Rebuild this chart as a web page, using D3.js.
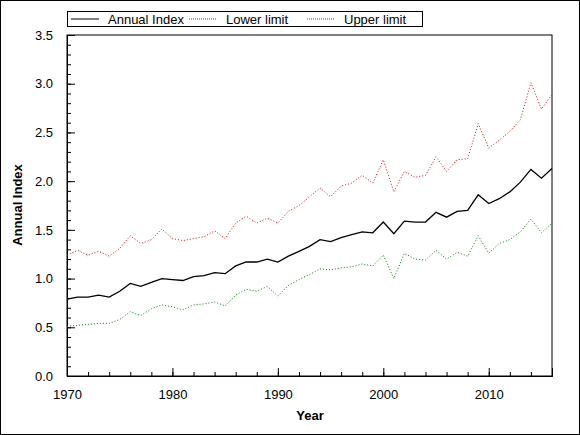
<!DOCTYPE html><html><head><meta charset="utf-8"><script src="https://cdn.jsdelivr.net/npm/d3@7"></script>
<style>body{margin:0;background:#fff}svg{font-family:"Liberation Sans",Arial,sans-serif}</style></head><body>
<svg id="c" width="580" height="435"></svg>
<script>
const years=d3.range(1970,2017);
const annual=[0.79,0.81,0.81,0.83,0.81,0.87,0.95,0.92,0.96,1.00,0.99,0.98,1.02,1.03,1.06,1.05,1.13,1.17,1.17,1.20,1.17,1.23,1.28,1.33,1.40,1.38,1.42,1.45,1.48,1.47,1.58,1.46,1.59,1.58,1.58,1.68,1.63,1.69,1.70,1.86,1.77,1.82,1.89,1.99,2.12,2.03,2.13];
const lower=[0.51,0.52,0.53,0.54,0.54,0.58,0.66,0.62,0.69,0.73,0.71,0.68,0.73,0.74,0.76,0.72,0.83,0.89,0.87,0.92,0.82,0.93,0.99,1.04,1.10,1.09,1.11,1.12,1.15,1.13,1.24,1.00,1.26,1.20,1.19,1.29,1.20,1.27,1.23,1.44,1.26,1.36,1.40,1.48,1.61,1.47,1.57];
const upper=[1.24,1.29,1.24,1.28,1.23,1.31,1.44,1.36,1.40,1.51,1.41,1.39,1.41,1.43,1.49,1.41,1.57,1.64,1.57,1.62,1.57,1.69,1.75,1.84,1.93,1.84,1.95,1.98,2.06,1.98,2.22,1.89,2.10,2.04,2.06,2.25,2.10,2.22,2.23,2.59,2.34,2.42,2.51,2.63,3.01,2.74,2.89];
const seriesNames=["Annual Index","Lower limit","Upper limit"];
const xTicks=[1970,1980,1990,2000,2010];
const yTicks=[0,0.5,1,1.5,2,2.5,3,3.5];
const svg=d3.select("#c");
svg.append("rect").attr("x",0.5).attr("y",0.5).attr("width",579).attr("height",434).attr("fill","#fff").attr("stroke","#000");
const x=d3.scaleLinear().domain([1970,2016]).range([67,552]);
const y=d3.scaleLinear().domain([0,3.5]).range([376,35]);
svg.append("rect").attr("x",67).attr("y",35).attr("width",485).attr("height",341).attr("fill","none").attr("stroke","#000");
const xa=svg.append("g").attr("transform","translate(0,376)");
xa.call(d3.axisBottom(x).tickValues(d3.range(1970,2017,2)).tickSize(-4).tickFormat(""));
xa.call(g=>g.append("g").call(d3.axisBottom(x).tickValues(xTicks).tickSize(-8).tickFormat(d3.format("d")).tickPadding(14)));
const ya=svg.append("g").attr("transform","translate(67,0)");
ya.call(d3.axisLeft(y).tickValues(d3.range(0,3.51,0.1)).tickSize(-4).tickFormat(""));
ya.call(g=>g.append("g").call(d3.axisLeft(y).tickValues(yTicks).tickSize(-8).tickFormat(d3.format(".1f")).tickPadding(14)));
svg.selectAll(".domain").attr("stroke","#000");
svg.selectAll(".tick line").attr("stroke","#000");
svg.selectAll(".tick text").attr("font-size",13).attr("fill","#000").attr("font-family","Liberation Sans");
const line=d3.line().x((d,i)=>x(years[i])).y(d=>y(d));
svg.append("path").datum(upper).attr("d",line).attr("fill","none").attr("stroke","#f00").attr("stroke-dasharray","1,2");
svg.append("path").datum(lower).attr("d",line).attr("fill","none").attr("stroke","#080").attr("stroke-dasharray","1,2");
svg.append("path").datum(annual).attr("d",line).attr("fill","none").attr("stroke","#000").attr("stroke-width",1.3);
svg.append("text").attr("x",310).attr("y",420).attr("text-anchor","middle").attr("font-weight","bold").attr("font-size",13).text("Year");
svg.append("text").attr("transform","translate(22,205) rotate(-90)").attr("text-anchor","middle").attr("font-weight","bold").attr("font-size",13).text("Annual Index");
const lg=svg.append("g");
lg.append("rect").attr("x",67.5).attr("y",11.5).attr("width",355).attr("height",15).attr("fill","#fff").attr("stroke","#000");
const leg=[{n:seriesNames[0],c:"#000",d:null,x:71},{n:seriesNames[1],c:"#080",d:"1,1",x:189},{n:seriesNames[2],c:"#f00",d:"1,1",x:307}];
leg.forEach(l=>{lg.append("line").attr("x1",l.x).attr("x2",l.x+28).attr("y1",19).attr("y2",19).attr("stroke",l.c).attr("stroke-dasharray",l.d);
lg.append("text").attr("x",l.x+37).attr("y",24).attr("font-size",13).text(l.n);});
</script></body></html>
